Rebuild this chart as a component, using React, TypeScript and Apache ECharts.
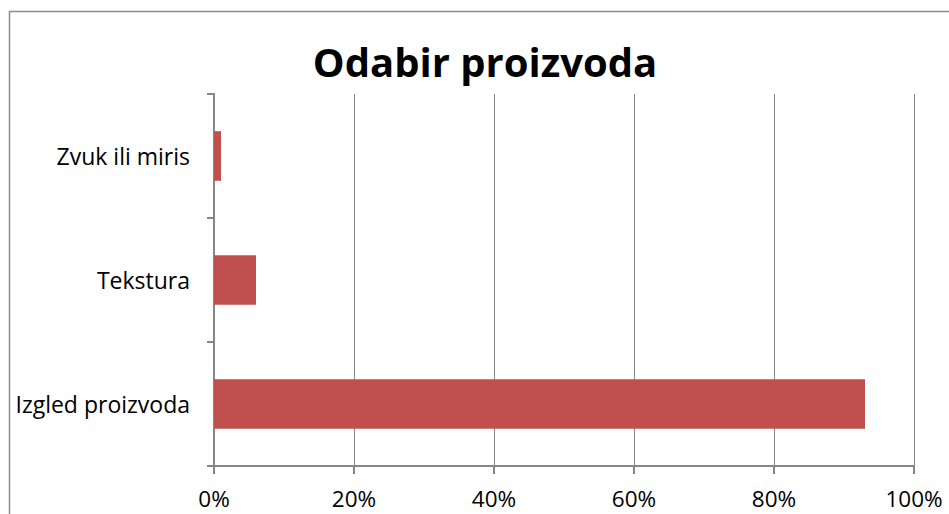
import React, { useEffect, useRef } from "react";
import * as echarts from "echarts";

const categories = ["Izgled proizvoda", "Tekstura", "Zvuk ili miris"];
const values = [93, 6, 1];
const titleText = "Odabir proizvoda";

export default function App() {
  const ref = useRef<HTMLDivElement>(null);
  useEffect(() => {
    if (!ref.current) return;
    const chart = echarts.init(ref.current, null, { renderer: "svg" });
    chart.setOption({
      animation: false,
      backgroundColor: "#ffffff",
      title: {
        text: titleText,
        left: "480",
        top: 36,
        textAlign: "center",
        textStyle: {
          fontFamily: "Open Sans, Liberation Sans, sans-serif",
          fontWeight: "bold",
          fontSize: 40,
          color: "#000",
        },
      },
      graphic: [
        {
          type: "rect",
          shape: { x: 9.5, y: 11.5, width: 960, height: 520 },
          style: { fill: "none", stroke: "#8c8c8c", lineWidth: 1.5 },
          silent: true,
        },
      ],
      grid: { left: 214, right: 35, top: 94, bottom: 48, containLabel: false },
      xAxis: {
        type: "value",
        min: 0,
        max: 100,
        interval: 20,
        axisLine: { show: true, lineStyle: { color: "#868686", width: 2 } },
        axisTick: { show: true, length: 8, lineStyle: { color: "#868686", width: 2 } },
        splitLine: { show: true, lineStyle: { color: "#868686", width: 1 } },
        axisLabel: {
          formatter: "{value}%",
          fontFamily: "Open Sans, Liberation Sans, sans-serif",
          fontSize: 22.5,
          color: "#000",
          margin: 21,
        },
      },
      yAxis: {
        type: "category",
        data: categories,
        axisLine: { show: true, lineStyle: { color: "#868686", width: 2 } },
        axisTick: { show: true, length: 7, lineStyle: { color: "#868686", width: 2 } },
        axisLabel: {
          fontFamily: "Open Sans, Liberation Sans, sans-serif",
          fontSize: 23,
          color: "#000",
          margin: 24,
        },
      },
      series: [
        {
          type: "bar",
          data: values,
          barCategoryGap: "60%",
          itemStyle: { color: "#C0504D" },
        },
      ],
    });
    return () => chart.dispose();
  }, []);
  return (
    <div
      ref={ref}
      style={{ position: "absolute", left: 0, top: 0, width: 949, height: 514 }}
    />
  );
}
